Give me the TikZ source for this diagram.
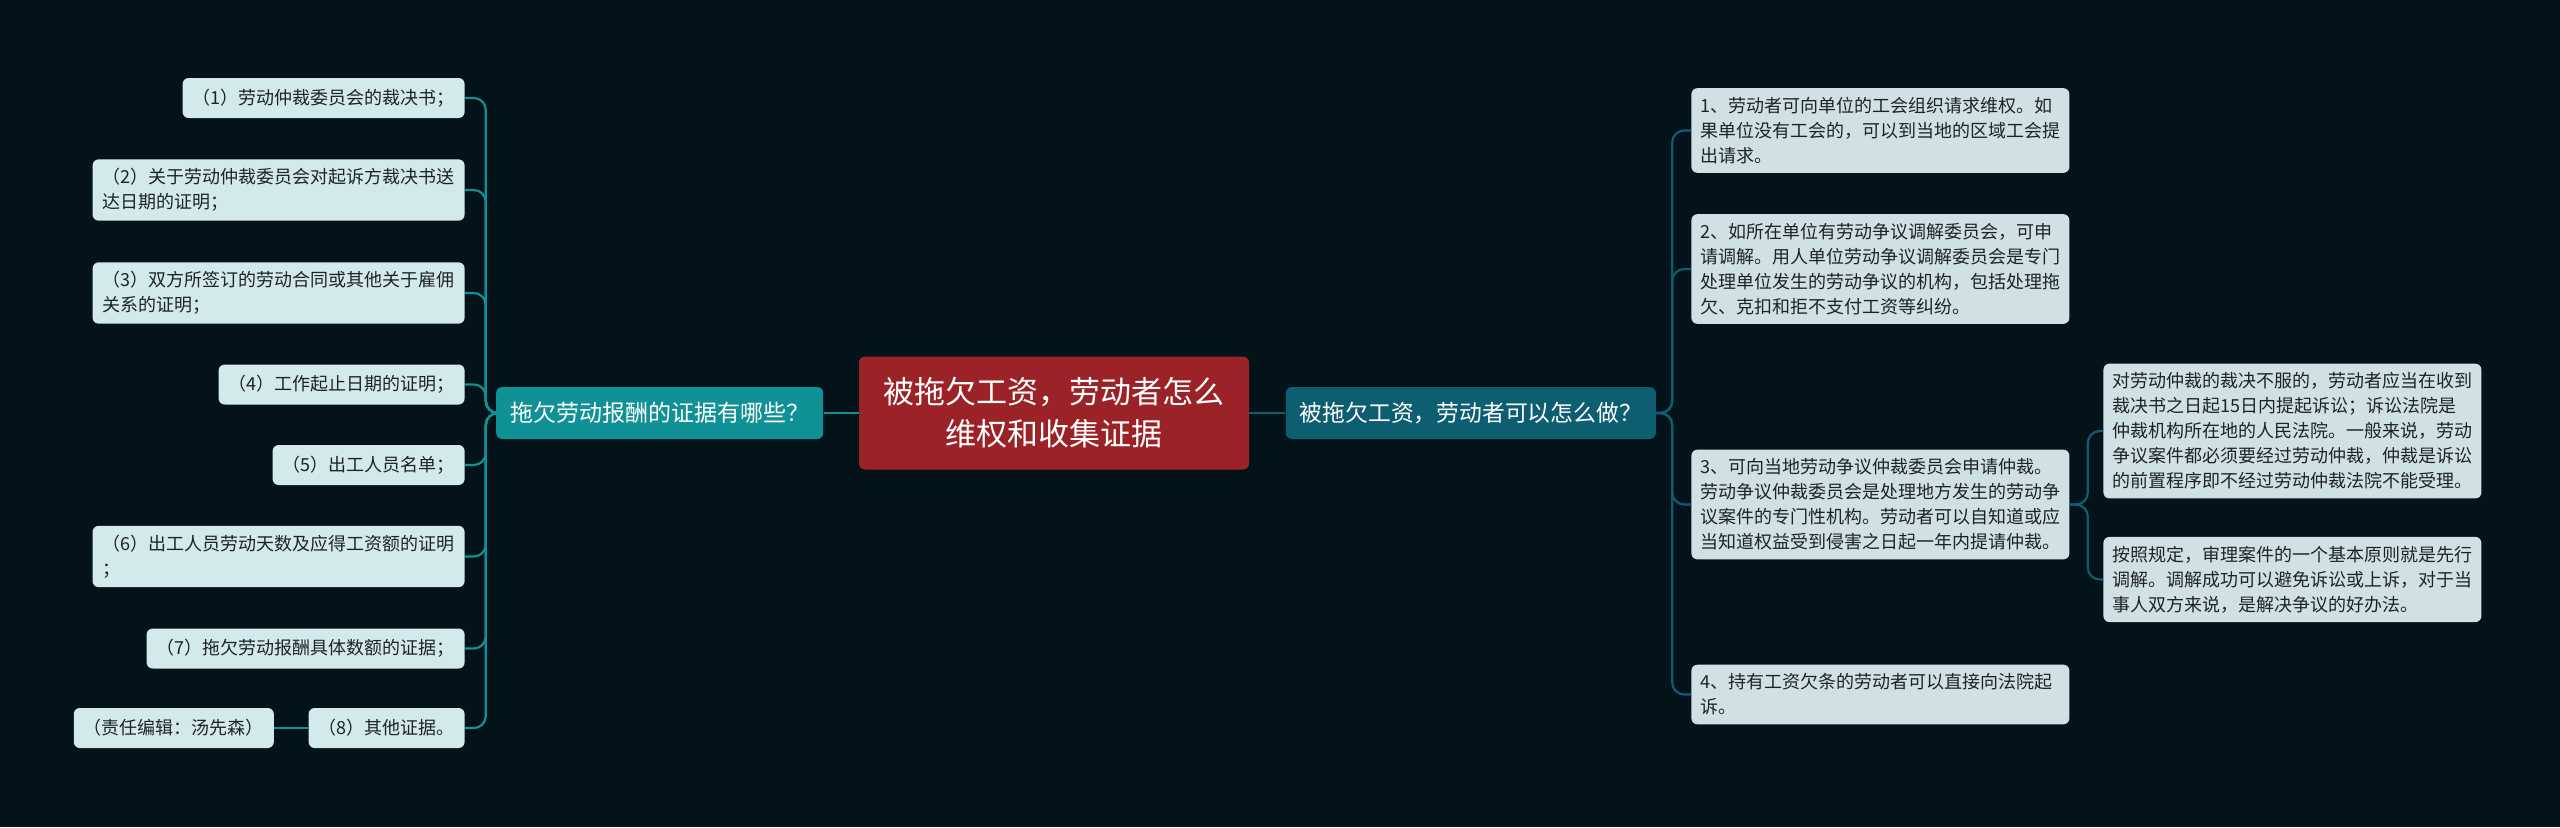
\documentclass[tikz,border=0pt]{standalone}
\usepackage{fontspec}
\setmainfont{Noto Sans CJK SC}
\usetikzlibrary{positioning}
\definecolor{bgdark}{HTML}{04121A}
\definecolor{rootred}{HTML}{9B2226}
\definecolor{lteal}{HTML}{0F9195}
\definecolor{rteal}{HTML}{0E5E71}
\definecolor{lleaf}{HTML}{D2EAEC}
\definecolor{rleaf}{HTML}{D0E1E5}
\definecolor{leaftext}{HTML}{1E2326}
\begin{document}
\begin{tikzpicture}[x=0.5pt, y=-0.5pt,
    root/.style = {fill=rootred, rounded corners=3pt, text=white, align=center, minimum width=195pt, minimum height=56.5pt, font=\fontsize{15.5}{21}\selectfont},
    lmainbox/.style = {fill=lteal, rounded corners=3pt, text=white, inner xsep=7pt, minimum height=26pt, font=\fontsize{11.5}{14}\selectfont},
    rmainbox/.style = {fill=rteal, rounded corners=3pt, text=white, inner xsep=7pt, minimum height=26pt, font=\fontsize{11.4}{14}\selectfont},
    leafl/.style = {fill=lleaf, rounded corners=3pt, text=leaftext, align=left, inner xsep=5pt, inner ysep=4.5pt, minimum height=20pt, font=\fontsize{9}{12.5}\selectfont},
    leafr/.style = {fill=rleaf, rounded corners=3pt, text=leaftext, align=left, text width=180pt, inner xsep=4.5pt, inner ysep=4.5pt, minimum height=20pt, font=\fontsize{9}{12.5}\selectfont},
    lbr/.style = {draw=lteal, line width=1.1pt, rounded corners=6pt},
    rbr/.style = {draw=rteal, line width=1.1pt, rounded corners=6pt}]
    \fill[bgdark] (0,0) rectangle (2560,827);
    \useasboundingbox (0,0) rectangle (2560,827);

    \node[root] (root) at (1054,413) {被拖欠工资，劳动者怎么\\维权和收集证据};
    \node[lmainbox] (lmain)[left=17.5pt of root] {拖欠劳动报酬的证据有哪些？};
    \node[rmainbox] (rmain)[right=18pt of root] {被拖欠工资，劳动者可以怎么做？};

    \node[leafl, anchor=east] (l1) at (465,98) {（1）劳动仲裁委员会的裁决书；};
    \node[leafl, anchor=east] (l2) at (465,190) {（2）关于劳动仲裁委员会对起诉方裁决书送\\达日期的证明；};
    \node[leafl, anchor=east] (l3) at (465,293) {（3）双方所签订的劳动合同或其他关于雇佣\\关系的证明；};
    \node[leafl, anchor=east] (l4) at (465,384.5) {（4）工作起止日期的证明；};
    \node[leafl, anchor=east] (l5) at (465,465) {（5）出工人员名单；};
    \node[leafl, anchor=east] (l6) at (465,556.5) {（6）出工人员劳动天数及应得工资额的证明\\；};
    \node[leafl, anchor=east] (l7) at (465,648.5) {（7）拖欠劳动报酬具体数额的证据；};
    \node[leafl, anchor=east] (l8) at (465,728) {（8）其他证据。};
    \node[leafl] (editor)[left=17pt of l8] {（责任编辑：汤先森）};

    \node[leafr, anchor=west] (r1) at (1691,130.5) {1、劳动者可向单位的工会组织请求维权。如\\果单位没有工会的，可以到当地的区域工会提\\出请求。};
    \node[leafr, anchor=west] (r2) at (1691,269) {2、如所在单位有劳动争议调解委员会，可申\\请调解。用人单位劳动争议调解委员会是专门\\处理单位发生的劳动争议的机构，包括处理拖\\欠、克扣和拒不支付工资等纠纷。};
    \node[leafr, anchor=west] (r3) at (1691,504.5) {3、可向当地劳动争议仲裁委员会申请仲裁。\\劳动争议仲裁委员会是处理地方发生的劳动争\\议案件的专门性机构。劳动者可以自知道或应\\当知道权益受到侵害之日起一年内提请仲裁。};
    \node[leafr, anchor=west] (r4) at (1691,694.5) {4、持有工资欠条的劳动者可以直接向法院起\\诉。};
    \node[leafr, anchor=west] (r31) at (2103,431) {对劳动仲裁的裁决不服的，劳动者应当在收到\\裁决书之日起15日内提起诉讼；诉讼法院是\\仲裁机构所在地的人民法院。一般来说，劳动\\争议案件都必须要经过劳动仲裁，仲裁是诉讼\\的前置程序即不经过劳动仲裁法院不能受理。};
    \node[leafr, anchor=west] (r32) at (2103,579.5) {按照规定，审理案件的一个基本原则就是先行\\调解。调解成功可以避免诉讼或上诉，对于当\\事人双方来说，是解决争议的好办法。};

    \draw[lbr] (root.west) -- (lmain.east);
    \draw[rbr] (root.east) -- (rmain.west);
    \foreach \leaf in {l1,l2,l3,l4,l5,l6,l7,l8}
        \draw[lbr] (lmain.west) -- ++(-10,0) |- (\leaf.east);
    \draw[lbr] (l8.west) -- (editor.east);
    \foreach \leaf in {r1,r2,r3,r4}
        \draw[rbr] (rmain.east) -- ++(16,0) |- (\leaf.west);
    \foreach \leaf in {r31,r32}
        \draw[rbr] (r3.east) -- ++(18,0) |- (\leaf.west);
\end{tikzpicture}
\end{document}
